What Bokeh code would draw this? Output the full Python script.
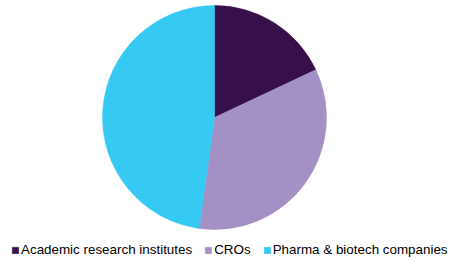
import math
from bokeh.plotting import figure
from bokeh.models import Legend, LegendItem
from bokeh.embed import file_html
from bokeh.resources import INLINE

categories = ["Academic research institutes", "CROs", "Pharma & biotech companies"]
shares = [18.0, 34.2, 47.8]
colors = ["#371049", "#A391C5", "#35C9F3"]

W, H = 457, 262
p = figure(width=W, height=H, x_range=(0, W), y_range=(0, H),
           output_backend="svg", toolbar_location=None, min_border=0)
p.axis.visible = False
p.grid.visible = False
p.outline_line_color = None
p.background_fill_color = "white"

total = sum(shares)
starts, ends = [], []
acc = 0.0
for s in shares:
    starts.append(math.pi / 2 - acc / total * 2 * math.pi)
    acc += s
    ends.append(math.pi / 2 - acc / total * 2 * math.pi)

cx, cy, r = 214, H - 117, 112
renderers = []
for i in range(len(categories)):
    rr = p.wedge(x=cx, y=cy, radius=r, start_angle=starts[i], end_angle=ends[i],
                 direction="clock", fill_color=colors[i], line_color=colors[i], line_width=0.5)
    renderers.append(rr)

legend = Legend(items=[LegendItem(label=categories[i], renderers=[renderers[i]]) for i in range(3)],
                orientation="horizontal", location=(11, 5),
                glyph_width=8, glyph_height=8, label_standoff=2, spacing=12,
                padding=5, margin=0,
                label_text_font="Liberation Sans", label_text_font_size="13.4px",
                label_text_color="#000000",
                background_fill_alpha=0, border_line_color=None)
p.add_layout(legend, "center")

open("out.html", "w").write(file_html(p, INLINE))
